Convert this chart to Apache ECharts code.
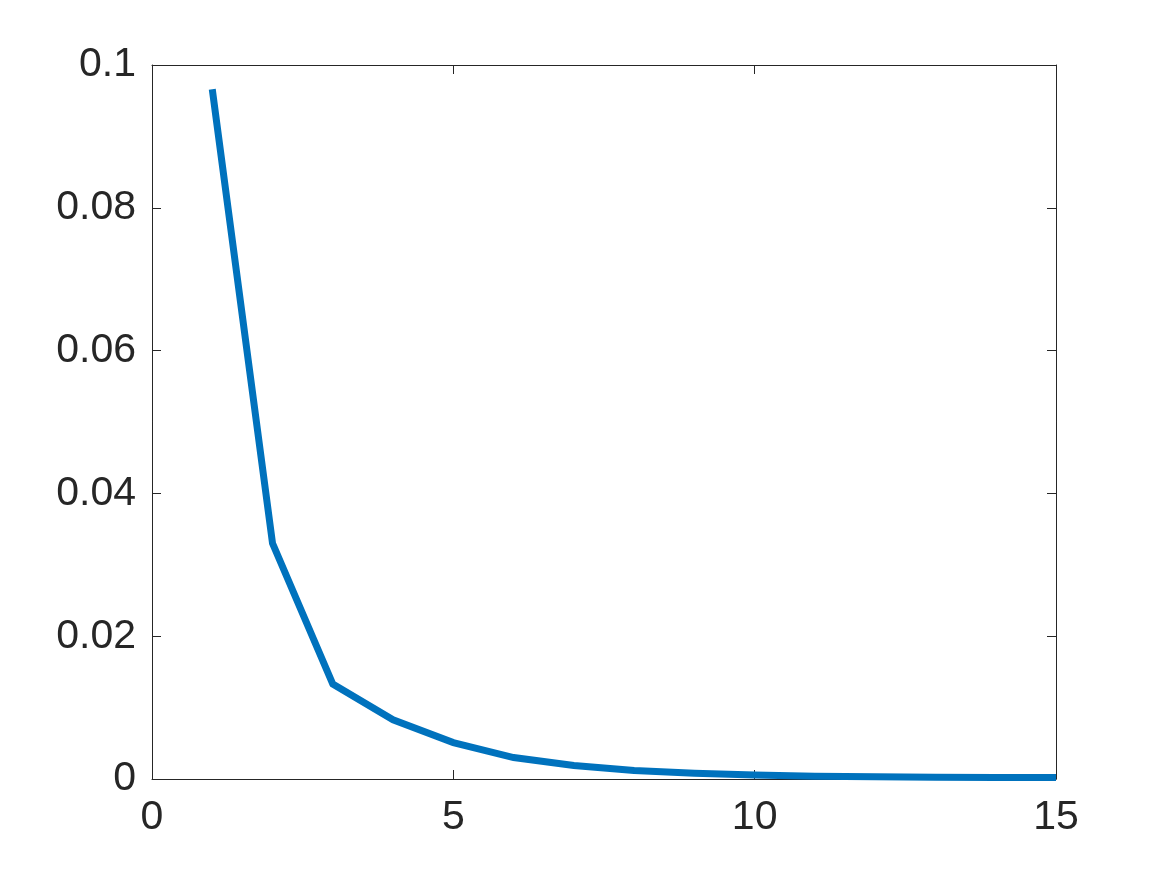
<!DOCTYPE html>
<html>
<head>
<meta charset="utf-8">
<script src="https://cdn.jsdelivr.net/npm/echarts@6/dist/echarts.min.js"></script>
<style>
  html, body { margin: 0; padding: 0; background: #fff; }
  #chart { width: 1167px; height: 875px; }
</style>
</head>
<body>
<div id="chart"></div>
<script>
var xValues = [1, 2, 3, 4, 5, 6, 7, 8, 9, 10, 11, 12, 13, 14, 15];
var yValues = [0.0966, 0.0330, 0.0133, 0.0083, 0.0051, 0.0030, 0.0019, 0.0012, 0.0008, 0.00055, 0.0004, 0.0003, 0.00025, 0.0002, 0.0002];
var xTicks = [0, 5, 10, 15];
var yTicks = [0, 0.02, 0.04, 0.06, 0.08, 0.1];

var axisColor = '#262626';
var fontFamily = '"Liberation Sans", Arial, Helvetica, sans-serif';

var points = [];
for (var i = 0; i < xValues.length; i++) {
    points.push([xValues[i], yValues[i]]);
}

function boxAxis(extra) {
    var a = {
        axisLine: { show: true, onZero: false, lineStyle: { color: axisColor, width: 1 } },
        axisTick: { show: true, inside: true, length: 9, lineStyle: { color: axisColor, width: 1 } },
        splitLine: { show: false },
        axisLabel: { show: false }
    };
    for (var k in extra) a[k] = extra[k];
    return a;
}

var chart = echarts.init(document.getElementById('chart'));
chart.setOption({
    animation: false,
    backgroundColor: '#fff',
    grid: { left: 152, top: 65, right: 111, bottom: 96 },
    xAxis: [
        boxAxis({
            type: 'value', min: 0, max: 15, interval: 5, position: 'bottom',
            axisLabel: {
                show: true, color: axisColor, fontSize: 41, fontFamily: fontFamily, margin: 18,
                formatter: function(v) { return xTicks.indexOf(v) >= 0 ? String(v) : ''; }
            }
        }),
        boxAxis({ type: 'value', min: 0, max: 15, interval: 5, position: 'top' })
    ],
    yAxis: [
        boxAxis({
            type: 'value', min: 0, max: 0.1, interval: 0.02, position: 'left',
            axisLabel: {
                show: true, color: axisColor, fontSize: 41, fontFamily: fontFamily, margin: 16,
                formatter: function(v) {
                    var r = Math.round(v * 100) / 100;
                    return yTicks.indexOf(r) >= 0 ? String(r) : '';
                }
            }
        }),
        boxAxis({ type: 'value', min: 0, max: 0.1, interval: 0.02, position: 'right' })
    ],
    series: [{
        type: 'line',
        data: points,
        showSymbol: false,
        symbol: 'none',
        lineStyle: { color: '#0072BD', width: 7, join: 'miter' },
        clip: false
    }]
});
</script>
</body>
</html>
